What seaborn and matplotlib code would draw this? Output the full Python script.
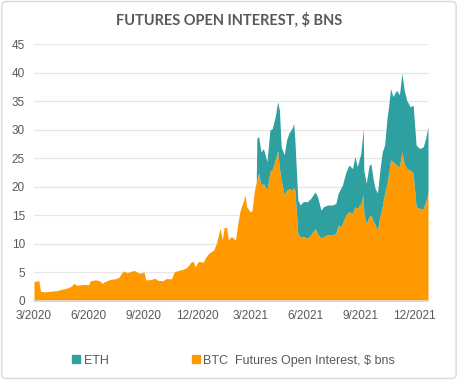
import pandas as pd
import matplotlib
matplotlib.use("Agg")
import matplotlib.pyplot as plt
import matplotlib.dates as mdates
from matplotlib.lines import Line2D
from matplotlib.patches import FancyBboxPatch
import seaborn as sns

# Values ($ bns)
dates = [
    "2020-03-01", "2020-03-06", "2020-03-09", "2020-03-12", "2020-03-20", "2020-03-28",
    "2020-04-08", "2020-04-15", "2020-04-23", "2020-04-29", "2020-05-03", "2020-05-07",
    "2020-05-12", "2020-05-23", "2020-06-01", "2020-06-04", "2020-06-12", "2020-06-19",
    "2020-06-24", "2020-06-28", "2020-07-08", "2020-07-16", "2020-07-22", "2020-07-26",
    "2020-07-30", "2020-08-05", "2020-08-11", "2020-08-17", "2020-08-22", "2020-08-28",
    "2020-09-02", "2020-09-05", "2020-09-14", "2020-09-20", "2020-09-26", "2020-10-04",
    "2020-10-10", "2020-10-18", "2020-10-23", "2020-10-30", "2020-11-07", "2020-11-13",
    "2020-11-20", "2020-11-24", "2020-11-27", "2020-12-03", "2020-12-11", "2020-12-14",
    "2020-12-20", "2020-12-28", "2021-01-02", "2021-01-08", "2021-01-12", "2021-01-15",
    "2021-01-19", "2021-01-22", "2021-01-27", "2021-02-03", "2021-02-07", "2021-02-11",
    "2021-02-17", "2021-02-19", "2021-02-22", "2021-02-28", "2021-03-03", "2021-03-07",
    "2021-03-10", "2021-03-11", "2021-03-14", "2021-03-18", "2021-03-22", "2021-03-28",
    "2021-04-02", "2021-04-06", "2021-04-11", "2021-04-15", "2021-04-18", "2021-04-21",
    "2021-04-26", "2021-04-30", "2021-05-04", "2021-05-09", "2021-05-12", "2021-05-14",
    "2021-05-19", "2021-05-23", "2021-05-28", "2021-06-04", "2021-06-10", "2021-06-17",
    "2021-06-21", "2021-06-27", "2021-07-01", "2021-07-08", "2021-07-16", "2021-07-22",
    "2021-07-26", "2021-07-30", "2021-08-02", "2021-08-08", "2021-08-13", "2021-08-19",
    "2021-08-23", "2021-08-27", "2021-09-02", "2021-09-06", "2021-09-07", "2021-09-11",
    "2021-09-16", "2021-09-19", "2021-09-23", "2021-09-26", "2021-09-30", "2021-10-04",
    "2021-10-08", "2021-10-12", "2021-10-16", "2021-10-19", "2021-10-22", "2021-10-26",
    "2021-11-01", "2021-11-06", "2021-11-10", "2021-11-14", "2021-11-18", "2021-11-24",
    "2021-11-29", "2021-12-04", "2021-12-10", "2021-12-16", "2021-12-20", "2021-12-24",
]

btc = [
    3.4, 3.5, 3.6, 1.7, 1.6, 1.7,
    1.8, 2.0, 2.2, 2.4, 2.6, 3.1,
    2.75, 2.9, 2.85, 3.55, 3.7, 3.55,
    3.1, 3.4, 3.8, 3.9, 4.15, 4.85,
    5.25, 4.95, 5.2, 5.35, 5.0, 4.85,
    5.1, 3.7, 3.75, 4.0, 3.6, 3.55,
    3.95, 3.85, 5.1, 5.35, 5.55, 5.85,
    6.8, 6.95, 6.0, 6.95, 6.8, 7.5,
    8.35, 8.9, 10.1, 12.7, 10.7, 12.9,
    12.9, 10.7, 11.3, 10.7, 13.6, 15.9,
    17.7, 18.6, 16.5, 15.6, 15.9, 19.4,
    20.8, 21.2, 22.4, 20.3, 20.6, 19.4,
    22.6, 23.1, 24.7, 26.4, 23.2, 21.2,
    18.6, 19.4, 19.7, 19.4, 19.9, 19.4,
    11.8, 11.3, 11.3, 11.0, 11.6, 12.7,
    11.8, 11.0, 11.3, 11.6, 11.6, 11.8,
    13.3, 13.0, 13.6, 15.1, 15.6, 15.4,
    16.5, 16.2, 17.1, 18.6, 15.4, 13.6,
    14.8, 15.1, 13.9, 13.3, 12.4, 14.8,
    16.5, 18.9, 20.6, 22.4, 24.7, 24.4,
    23.8, 23.5, 26.1, 24.1, 23.2, 22.9,
    22.4, 16.5, 16.2, 16.2, 17.4, 18.9,
]

eth = [
    0, 0, 0, 0, 0, 0,
    0, 0, 0, 0, 0, 0,
    0, 0, 0, 0, 0, 0,
    0, 0, 0, 0, 0, 0,
    0, 0, 0, 0, 0, 0,
    0, 0, 0, 0, 0, 0,
    0, 0, 0, 0, 0, 0,
    0, 0, 0, 0, 0, 0,
    0, 0, 0, 0, 0, 0,
    0, 0, 0, 0, 0, 0,
    0, 0, 0, 0, 0, 0,
    0, 7.3, 6.4, 5.8, 6.1, 5.0,
    7.3, 7.1, 7.6, 8.5, 10.2, 5.8,
    7.0, 8.8, 9.7, 10.8, 11.2, 8.8,
    5.9, 5.5, 6.1, 6.4, 6.4, 6.4,
    6.5, 4.9, 5.2, 5.2, 5.2, 5.3,
    5.6, 6.7, 6.7, 7.5, 8.2, 7.8,
    8.8, 7.3, 8.8, 11.6, 7.5, 7.0,
    9.0, 8.9, 7.3, 6.4, 6.5, 8.1,
    9.6, 8.4, 11.4, 11.9, 12.5, 11.4,
    13.1, 12.6, 13.8, 12.8, 12.0, 11.1,
    11.9, 10.8, 10.5, 10.8, 11.1, 11.6,
]

df = pd.DataFrame({"date": pd.to_datetime(dates), "BTC": btc, "ETH": eth})

sns.set_theme(style="white")
plt.rcParams["font.family"] = ["Liberation Sans", "DejaVu Sans"]

btc_color = "#FF9900"
eth_color = "#2EA0A0"
text_color = "#595959"

fig = plt.figure(figsize=(4.58, 3.80), dpi=100)
ax = fig.add_axes([0.0742, 0.2079, 0.8603, 0.6763])

ax.stackplot(df["date"], df["BTC"], df["ETH"], colors=[btc_color, eth_color],
             linewidth=0)

ax.set_ylim(0, 45)
ax.set_yticks(range(0, 46, 5))
ax.set_xlim(pd.Timestamp("2020-03-01"), pd.Timestamp("2021-12-24"))
ax.xaxis.set_major_locator(mdates.MonthLocator(bymonth=[3, 6, 9, 12]))
ax.xaxis.set_major_formatter(plt.FuncFormatter(
    lambda v, p: f"{mdates.num2date(v).month}/{mdates.num2date(v).year}"))

ax.grid(axis="y", color="#E6E6E6", linewidth=0.9)
ax.set_axisbelow(True)
for side in ["top", "right", "left"]:
    ax.spines[side].set_visible(False)
ax.spines["bottom"].set_color("#D9D9D9")
ax.tick_params(axis="both", length=0, labelsize=8.5, labelcolor=text_color)
ax.tick_params(axis="y", pad=6.5)
ax.tick_params(axis="x", pad=6.5)
ax.set_xlabel("")
ax.set_ylabel("")

fig.text(0.5, 0.947, "FUTURES OPEN INTEREST, $ BNS", ha="center", va="center",
         fontsize=10.5, fontweight="bold", color=text_color,
         family=["Lato", "DejaVu Sans"])

handles = [
    Line2D([], [], marker="s", linestyle="none", markersize=5.5, color=eth_color),
    Line2D([], [], marker="s", linestyle="none", markersize=5.5, color=btc_color),
]
fig.legend(handles, ["ETH", "BTC  Futures Open Interest, $ bns"],
           loc="center", bbox_to_anchor=(0.51, 0.051), ncol=2, frameon=False,
           fontsize=9, labelcolor=text_color, handlelength=0.7,
           handletextpad=0.25, columnspacing=6.6)

# light rounded border around the chart
fig.patches.append(FancyBboxPatch((0.004, 0.004), 0.992, 0.992,
                                  boxstyle="round,pad=0,rounding_size=0.01",
                                  transform=fig.transFigure, fill=False,
                                  edgecolor="#D9D9D9", linewidth=1))

fig.savefig("out.png", dpi=100)
